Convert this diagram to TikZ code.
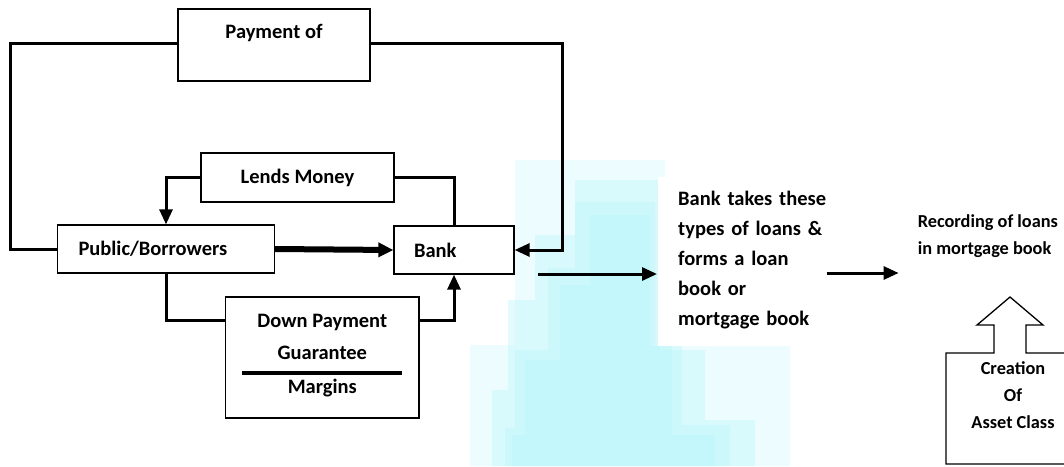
\documentclass[tikz,border=0pt]{standalone}
\usepackage{fontspec}
\setmainfont{Carlito}
\usetikzlibrary{arrows.meta,calc}
\definecolor{wm}{RGB}{185,245,250}
\begin{document}
\begin{tikzpicture}[x=1pt,y=-1pt,
  box/.style={draw=black,line width=1.3pt,inner sep=0pt,fill=white},
  conn/.style={line width=3pt},
  arr/.style={conn,-{Triangle[length=15pt,width=13pt]}},
  big/.style={font=\fontsize{20.5}{30}\selectfont\bfseries},
  small/.style={font=\fontsize{18.3}{26.5}\selectfont\bfseries},
  wmlayer/.style={fill=wm,opacity=0.4}]
\useasboundingbox (0,0) rectangle (1064,466);
% faint watermark
\fill[wmlayer,opacity=0.25] (470,466) -- (470,345) -- (515,345) -- (515,160) -- (665,160) -- (665,200) -- (790,200) -- (790,466) -- cycle;
\fill[wmlayer] (492,466) -- (492,390) -- (508,390) -- (508,300) -- (535,300) -- (535,235) -- (575,235) -- (575,180) -- (660,180) -- (660,350) -- (705,350) -- (705,420) -- (755,420) -- (755,466) -- cycle;
\fill[wmlayer] (505,466) -- (505,428) -- (515,428) -- (515,350) -- (548,350) -- (548,268) -- (575,268) -- (575,202) -- (655,202) -- (655,346) -- (682,346) -- (682,425) -- (730,425) -- (730,466) -- cycle;
\fill[wmlayer] (512,466) -- (512,435) -- (525,435) -- (525,360) -- (560,360) -- (560,285) -- (590,285) -- (590,215) -- (650,215) -- (650,346) -- (672,346) -- (672,435) -- (715,435) -- (715,466) -- cycle;
\fill[white] (658,177) rectangle (826,346);

% boxes
\node[box, minimum width=192pt, minimum height=72pt] (pay) at (274,45) {};
\node[big, inner sep=0pt] (payt) at (274,33) {Payment of};
\node[box, big, minimum width=193pt, minimum height=49pt] (lend) at (297.5,177.5) {Lends Money};
\node[box, big, text width=175pt, align=left, inner xsep=21pt, minimum height=48pt] (pub) at (166,249) {Public/Borrowers};
\node[box, big, text width=80pt, align=left, inner xsep=20pt, minimum height=48pt] (bank) at (454,250) {Bank};
\node[box, minimum width=193.4pt, minimum height=121pt] (down) at (322.3,357.5) {};
\node[big, inner sep=0pt] (d1) at (322.3,322) {Down Payment};
\node[big, inner sep=0pt] (d2) at (322.3,353) {Guarantee};
\draw[line width=3.3pt] (242,373) -- (402,373);
\node[big, inner sep=0pt] (d3) at (322.3,388) {Margins};

% outer loop
\coordinate (L) at (10,43);
\coordinate (R) at (562,43);
\draw[conn] (pay.west|-L) -- (L) |- (pub.west);
\draw[arr] (pay.east|-R) -- (R) |- (bank.east);
% lends money
\draw[arr] (lend.west) -| (pub.north);
\draw[conn] (lend.east) -| (bank.north);
% public to bank
\draw[line width=6pt,-{Triangle[length=15pt,width=14pt]}] (pub.east) -- (bank.west);
% down payment
\coordinate (dy) at (0,320);
\draw[conn] (pub.south) |- (down.west|-dy);
\draw[arr] (down.east|-dy) -| (bank.south);

% loan book text
\node[big, align=left, text width=152pt, anchor=west, inner sep=0pt] (bt) at (678,260)
  {Bank takes these\\types of loans \&\\forms a loan\\book or\\mortgage book};
\coordinate (a1) at (538,274);
\draw[arr, shorten >=21pt] (a1) -- (bt.west|-a1);
\node[small, align=left, anchor=west, inner sep=0pt] (rec) at (917.6,236)
  {Recording of loans\\in mortgage book};
\coordinate (a2) at (826.6,273);
\draw[arr, shorten >=19pt] (a2) -- (rec.west|-a2);

% asset class callout
\draw[line width=1.3pt] (946,464) -- (946,353) -- (994,353) -- (994,325) -- (977,325) -- (1010,297) -- (1043,325) -- (1026,325) -- (1026,353) -- (1075,353) -- (1075,464) -- cycle;
\node[small, align=center, inner sep=0pt, font=\fontsize{18.3}{27}\selectfont\bfseries] (ac) at (1013,395) {Creation\\Of\\Asset Class};
\end{tikzpicture}
\end{document}
